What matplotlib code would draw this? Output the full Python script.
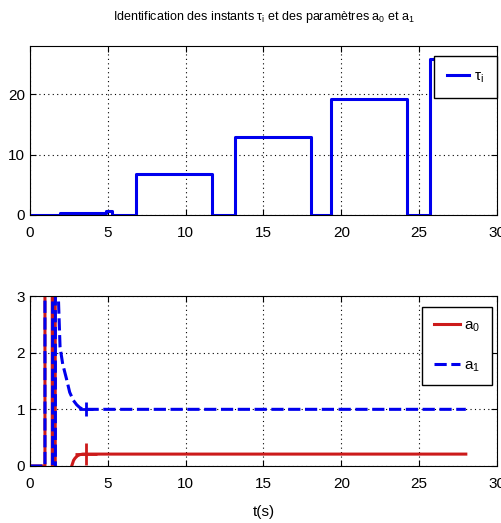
import matplotlib
matplotlib.use('Agg')
import matplotlib.pyplot as plt

plt.rcParams['font.family'] = ['Liberation Sans', 'DejaVu Sans']
plt.rcParams['mathtext.fontset'] = 'custom'
plt.rcParams['mathtext.rm'] = 'Liberation Sans'
plt.rcParams['mathtext.it'] = 'Liberation Sans'

# identified instants tau_i (step signal)
tau_t = [0, 1.9, 4.9, 5.25, 6.8, 11.7, 13.2, 18.05, 19.35, 24.25, 25.7, 28]
tau_val = [0, 0.3, 0.6, 0, 6.8, 0, 13.0, 0, 19.25, 0, 25.8, 25.8]

# identified parameters a0 and a1
a0_t = [0, 0.96, 0.96, 1.43, 1.43, 1.55, 1.55, 1.62, 1.62, 2.5, 2.68, 2.8, 2.9, 3.05, 3.2, 3.4, 3.6, 28]
a0_val = [0, 0, 60, 60, -60, -60, 60, 60, -60, -1, 0, 0.1, 0.14, 0.18, 0.2, 0.21, 0.21, 0.21]
a1_t = [0, 0.96, 0.96, 1.45, 1.45, 1.63, 1.63, 1.82, 1.93, 2.1, 2.36, 2.55, 2.78, 3.0, 3.2, 3.4, 3.6, 28]
a1_val = [0, 0, 60, 60, -60, -60, 60, 3.0, 2.1, 1.8, 1.52, 1.3, 1.16, 1.08, 1.03, 1.0, 1.0, 1.0]
mark_t = 3.6

fig = plt.figure(figsize=(5.01, 5.23), dpi=100)
ax1 = fig.add_axes([0.0599, 0.589, 0.932, 0.323])
ax2 = fig.add_axes([0.0599, 0.109, 0.932, 0.325])

ax1.step(tau_t, tau_val, where='post', color='#0000ee', lw=2.2, label=r'$\tau_i$')
ax1.set_xlim(0, 30)
ax1.set_ylim(0, 28)
ax1.set_yticks([0, 10, 20])
ax1.set_title(r'Identification des instants $\tau_i$ et des paramètres $a_0$ et $a_1$',
              fontsize=9, pad=19)
ax1.legend(loc='upper right', bbox_to_anchor=(1.0, 0.94), fontsize=11, frameon=True,
           fancybox=False, edgecolor='black', framealpha=1, handlelength=1.4,
           borderpad=0.85, handletextpad=0.35, borderaxespad=0)

ax2.plot(a0_t, a0_val, color='#cc1a1a', lw=2.2, label=r'$a_0$')
ax2.plot(a1_t, a1_val, color='#0000ee', lw=2.2, ls=(0, (4, 1.5)), label=r'$a_1$')
ax2.plot([mark_t], [a0_val[-1]], marker='+', color='#cc1a1a', ms=16, mew=2)
ax2.plot([mark_t], [a1_val[-1]], marker='+', color='#0000ee', ms=10, mew=2)
ax2.set_xlim(0, 30)
ax2.set_ylim(0, 3)
ax2.set_yticks([0, 1, 2, 3])
ax2.set_xlabel('t(s)', fontsize=11, labelpad=10)
ax2.legend(loc='upper right', bbox_to_anchor=(0.989, 0.935), fontsize=11, frameon=True,
           fancybox=False, edgecolor='black', framealpha=1, handlelength=1.7,
           borderpad=0.75, handletextpad=0.3, labelspacing=1.6, borderaxespad=0)

for ax in (ax1, ax2):
    ax.set_xticks([0, 5, 10, 15, 20, 25, 30])
    ax.grid(True, color='black', ls=(0, (1, 3)), lw=0.8)
    ax.tick_params(direction='in', top=True, right=True, labelsize=11, length=4)
    ax.tick_params(axis='x', pad=8)
    for s in ax.spines.values():
        s.set_linewidth(0.8)

fig.savefig('out.png', dpi=100)
